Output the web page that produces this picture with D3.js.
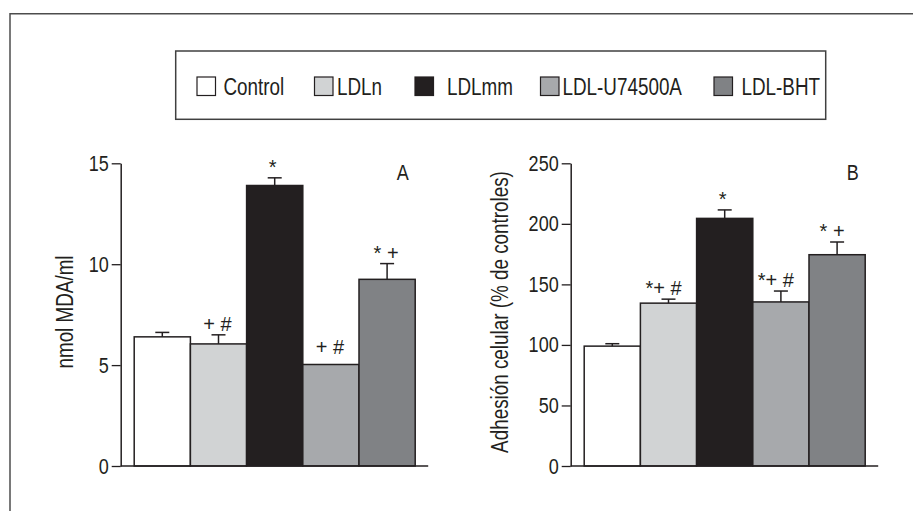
<!DOCTYPE html>
<html>
<head>
<meta charset="utf-8">
<script src="https://cdn.jsdelivr.net/npm/d3@7"></script>
<style>
  body { margin: 0; background: #fff; }
  text { font-family: "Liberation Sans", Arial, sans-serif; fill: #231f20; }
</style>
</head>
<body>
<div id="chart"></div>
<script>
// groups and values
let categories = ["Control", "LDLn", "LDLmm", "LDL-U74500A", "LDL-BHT"];
let colors = ["#ffffff", "#d1d3d4", "#231f20", "#a7a9ac", "#808285"];

let mdaValues = [6.4, 6.05, 13.9, 5.03, 9.25];
let mdaErrors = [0.22, 0.45, 0.38, 0, 0.78];
let mdaTicks = [0, 5, 10, 15];
let mdaMarks = ["", "+ #", "*", "+ #", "* +"];

let adhValues = [99, 134.5, 204.5, 135.5, 174.5];
let adhErrors = [2, 3.3, 7, 9, 10.5];
let adhTicks = [0, 50, 100, 150, 200, 250];
let adhMarks = ["", "*+ #", "*", "*+ #", "* +"];

// no condensed face installed, so squeeze Liberation Sans horizontally
let narrow = 0.82;

let svg = d3.select("#chart")
  .append("svg")
  .attr("width", 913)
  .attr("height", 511);

// outer frame (only top and left edges show)
svg.append("path")
  .attr("d", "M10,511 V13.7 H913")
  .attr("fill", "none")
  .attr("stroke", "#4d4d4d")
  .attr("stroke-width", 1.5);

// legend
svg.append("rect")
  .attr("x", 175.7).attr("y", 51)
  .attr("width", 650).attr("height", 68.3)
  .attr("fill", "none")
  .attr("stroke", "#404040")
  .attr("stroke-width", 1.5);

let swatchX = [197, 314.5, 415, 540.5, 714];
let labelX = [223.5, 337, 447, 562.5, 741.5];

let legend = svg.append("g");
legend.selectAll("rect")
  .data(categories)
  .enter().append("rect")
  .attr("x", (d, i) => swatchX[i])
  .attr("y", 77)
  .attr("width", 18.5)
  .attr("height", 18.5)
  .attr("fill", (d, i) => colors[i])
  .attr("stroke", "#231f20")
  .attr("stroke-width", 1.2);
legend.selectAll("text")
  .data(categories)
  .enter().append("text")
  .attr("transform", (d, i) => "translate(" + labelX[i] + ",94.5) scale(" + narrow + ",1)")
  .style("font-size", "23px")
  .text(d => d);

function panel(x0, values, errors, ticks, marks, maxY, yLabel, yLabelX, letter, markDx) {
  let g = svg.append("g");

  let x = d3.scaleBand()
    .domain(categories)
    .range([x0 + 13.5, x0 + 294.5])
    .padding(0);

  let y = d3.scaleLinear()
    .domain([0, maxY])
    .range([466, 163.3]);

  // bars
  g.selectAll("rect.bar")
    .data(categories)
    .enter().append("rect")
    .attr("class", "bar")
    .attr("x", d => x(d))
    .attr("y", (d, i) => y(values[i]))
    .attr("width", x.bandwidth())
    .attr("height", (d, i) => y(0) - y(values[i]))
    .attr("fill", (d, i) => colors[i])
    .attr("stroke", "#231f20")
    .attr("stroke-width", 1.5);

  // error bars
  let eb = g.selectAll("g.err")
    .data(categories.filter((d, i) => errors[i] > 0))
    .enter().append("g")
    .attr("class", "err");
  eb.append("line")
    .attr("x1", d => x(d) + x.bandwidth() / 2)
    .attr("x2", d => x(d) + x.bandwidth() / 2)
    .attr("y1", d => y(values[categories.indexOf(d)]))
    .attr("y2", d => { let i = categories.indexOf(d); return y(values[i] + errors[i]); })
    .attr("stroke", "#231f20")
    .attr("stroke-width", 1.5);
  eb.append("line")
    .attr("x1", d => x(d) + x.bandwidth() / 2 - 7)
    .attr("x2", d => x(d) + x.bandwidth() / 2 + 7)
    .attr("y1", d => { let i = categories.indexOf(d); return y(values[i] + errors[i]); })
    .attr("y2", d => { let i = categories.indexOf(d); return y(values[i] + errors[i]); })
    .attr("stroke", "#231f20")
    .attr("stroke-width", 1.5);

  // significance marks
  g.selectAll("text.mark")
    .data(categories)
    .enter().append("text")
    .attr("class", "mark")
    .attr("x", (d, i) => x(d) + x.bandwidth() / 2 + markDx[i])
    .attr("y", (d, i) => y(values[i] + errors[i]) - (errors[i] > 0 ? 4 : 10))
    .attr("text-anchor", "middle")
    .style("font-size", "20px")
    .text((d, i) => marks[i]);

  // axes
  let yAxis = g.append("g")
    .attr("transform", "translate(" + x0 + ",0)")
    .call(d3.axisLeft(y).tickValues(ticks).tickSize(9).tickPadding(3).tickSizeOuter(0));
  yAxis.select(".domain").attr("stroke", "#231f20").attr("stroke-width", 1.5);
  yAxis.selectAll(".tick line").attr("stroke", "#231f20").attr("stroke-width", 1.3);
  yAxis.selectAll(".tick text")
    .attr("x", -12 / narrow)
    .attr("transform", "scale(" + narrow + ",1)")
    .style("font-size", "22px")
    .style("font-family", "'Liberation Sans', sans-serif")
    .attr("fill", "#231f20");

  g.append("line")
    .attr("x1", x0).attr("x2", x0 + 307.5)
    .attr("y1", 466).attr("y2", 466)
    .attr("stroke", "#231f20")
    .attr("stroke-width", 1.5);

  g.append("text")
    .attr("transform", "translate(" + yLabelX + ",312) rotate(-90) scale(" + narrow + ",1)")
    .attr("text-anchor", "middle")
    .style("font-size", "23px")
    .text(yLabel);

  g.append("text")
    .attr("transform", "translate(" + (x0 + 282) + ",180) scale(" + narrow + ",1)")
    .attr("text-anchor", "middle")
    .style("font-size", "22px")
    .text(letter);
}

panel(120.7, mdaValues, mdaErrors, mdaTicks, mdaMarks, 15, "nmol MDA/ml", 72.5, "A", [0, -1, -2, -1, -1]);
panel(570.7, adhValues, adhErrors, adhTicks, adhMarks, 250, "Adhesión celular (% de controles)", 508, "B", [0, -5, -2, -5, -5]);
</script>
</body>
</html>
